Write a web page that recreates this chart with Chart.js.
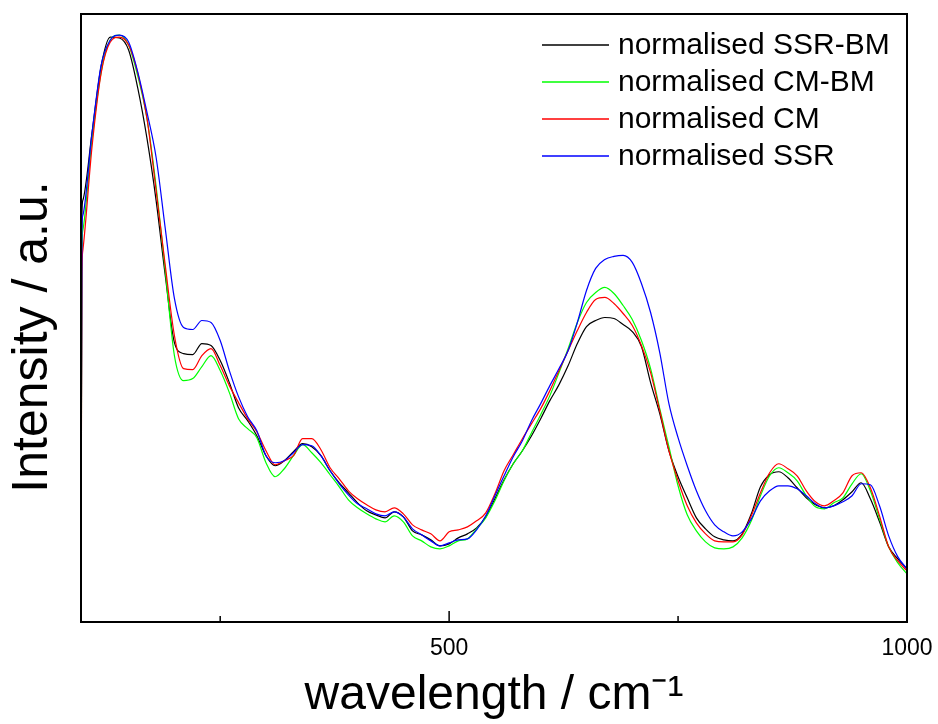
<!DOCTYPE html>
<html>
<head>
<meta charset="utf-8">
<script src="https://cdn.jsdelivr.net/npm/chart.js@4.4.1/dist/chart.umd.min.js"></script>
<style>
  html, body { margin: 0; padding: 0; background: #fff; }
  #wrap { width: 938px; height: 724px; position: relative; }
</style>
</head>
<body>
<div id="wrap"><canvas id="spectraChart"></canvas></div>
<script>
// wavelength axis (cm-1)
const wavelengths = [98, 99, 100, 110, 120, 130, 140, 150, 160, 170, 180, 190, 200, 210, 220, 230, 240, 250, 260, 270, 280, 290, 300, 310, 320, 330, 340, 350, 360, 370, 380, 390, 400, 410, 420, 430, 440, 450, 460, 470, 480, 490, 500, 510, 520, 530, 540, 550, 560, 570, 580, 590, 600, 610, 620, 630, 640, 650, 660, 670, 680, 690, 700, 710, 720, 730, 740, 750, 760, 770, 780, 790, 800, 810, 820, 830, 840, 850, 860, 870, 880, 890, 900, 910, 920, 930, 940, 950, 960, 970, 980, 990, 1000];

const ssrBm = [21, 406, 421, 488, 555, 584, 583, 571, 533, 483, 421, 346, 279, 268, 267, 278, 276, 261, 239, 214, 201, 186, 166, 156, 161, 170, 178, 175, 166, 151, 139, 129, 119, 111, 107, 104, 110, 105, 91, 87, 82, 76, 78, 84, 88, 94, 105, 123, 142, 158, 171, 186, 203, 221, 237, 256, 278, 295, 301, 304, 303, 297, 290, 275, 239, 208, 171, 145, 124, 104, 93, 85, 82, 81, 88, 108, 135, 147, 150, 144, 134, 124, 117, 114, 116, 122, 130, 139, 123, 100, 75, 63, 53];

const cmBm = [21, 371, 391, 481, 549, 581, 586, 576, 545, 503, 435, 351, 266, 241, 243, 255, 266, 251, 229, 203, 193, 184, 159, 145, 153, 166, 177, 169, 159, 147, 135, 122, 114, 108, 103, 100, 106, 100, 86, 81, 75, 73, 76, 81, 83, 93, 104, 121, 141, 158, 171, 189, 207, 226, 249, 273, 299, 319, 329, 334, 328, 316, 302, 281, 253, 213, 175, 136, 107, 91, 80, 74, 73, 75, 84, 101, 126, 146, 154, 149, 141, 126, 115, 113, 119, 124, 138, 148, 131, 103, 75, 59, 48];

const cm = [21, 346, 371, 474, 548, 579, 584, 576, 548, 503, 431, 356, 286, 253, 252, 266, 273, 256, 236, 219, 203, 190, 171, 157, 161, 166, 183, 183, 172, 154, 143, 131, 123, 117, 112, 110, 114, 108, 97, 92, 88, 81, 90, 92, 95, 101, 109, 128, 151, 167, 183, 198, 213, 231, 251, 271, 291, 309, 322, 324, 318, 308, 296, 276, 249, 211, 171, 141, 116, 99, 88, 81, 80, 80, 87, 106, 129, 149, 158, 153, 146, 131, 120, 116, 121, 129, 146, 149, 134, 106, 75, 61, 51];

const ssr = [21, 391, 406, 488, 556, 581, 586, 579, 549, 509, 464, 393, 323, 294, 292, 301, 299, 281, 251, 225, 205, 191, 166, 159, 161, 169, 177, 176, 166, 151, 138, 127, 118, 113, 108, 106, 110, 105, 93, 87, 81, 76, 79, 82, 83, 92, 106, 126, 146, 165, 181, 201, 218, 236, 253, 271, 299, 331, 353, 362, 365, 366, 359, 338, 309, 269, 218, 184, 156, 131, 111, 97, 90, 86, 90, 103, 121, 131, 136, 136, 133, 126, 118, 114, 116, 120, 126, 138, 137, 116, 86, 65, 53];

const seriesNames = ['normalised SSR-BM', 'normalised CM-BM', 'normalised CM', 'normalised SSR'];
const seriesColors = ['#000000', '#00ff00', '#ff0000', '#0000ff'];
const tickValues = [250, 500, 750, 1000];
const labelledTicks = [500, 1000];
const yTitle = 'Intensity / a.u.';

const FONT = "'Liberation Sans', Arial, sans-serif";

function toPoints(ys) {
    return wavelengths.map((x, i) => ({ x: x, y: ys[i] }));
}

// frame, inward tick marks, y title and the legend in the top right corner
const framePlugin = {
    id: 'frame',
    afterDatasetsDraw(chart) {
        const { ctx, chartArea: a, scales } = chart;
        ctx.save();
        ctx.strokeStyle = '#000';
        ctx.lineWidth = 2;
        ctx.strokeRect(a.left, a.top, a.right - a.left, a.bottom - a.top);

        ctx.lineWidth = 1.5;
        tickValues.forEach(v => {
            const px = scales.x.getPixelForValue(v);
            const len = labelledTicks.includes(v) ? 11 : 6;
            ctx.beginPath();
            ctx.moveTo(px, a.bottom);
            ctx.lineTo(px, a.bottom - len);
            ctx.stroke();
        });

        // y axis title, sits a bit below the middle like the original
        ctx.save();
        ctx.translate(a.left - 34, a.top + 323);
        ctx.rotate(-Math.PI / 2);
        ctx.font = '50px ' + FONT;
        ctx.fillStyle = '#000';
        ctx.textAlign = 'center';
        ctx.textBaseline = 'alphabetic';
        ctx.fillText(yTitle, 0, 0);
        ctx.restore();

        ctx.font = '30px ' + FONT;
        ctx.textBaseline = 'middle';
        ctx.textAlign = 'left';
        chart.data.datasets.forEach((ds, i) => {
            const y = a.top + 31 + i * 37;
            ctx.strokeStyle = ds.borderColor;
            ctx.lineWidth = 1.3;
            ctx.beginPath();
            ctx.moveTo(a.right - 365, y);
            ctx.lineTo(a.right - 298, y);
            ctx.stroke();
            ctx.fillStyle = '#000';
            ctx.fillText(ds.label, a.right - 289, y + 1);
        });
        ctx.restore();
    }
};

const seriesData = [ssrBm, cmBm, cm, ssr];

new Chart(document.getElementById('spectraChart'), {
    type: 'line',
    data: {
        datasets: seriesData.map((ys, i) => ({
            label: seriesNames[i],
            data: toPoints(ys),
            borderColor: seriesColors[i],
            backgroundColor: seriesColors[i],
            borderWidth: 1.2,
            pointRadius: 0,
            fill: false,
            cubicInterpolationMode: 'monotone',
            order: 4 - i
        }))
    },
    options: {
        responsive: true,
        maintainAspectRatio: false,
        animation: false,
        layout: {
            padding: { top: 14, right: 0, bottom: 0, left: 81 }
        },
        plugins: {
            legend: { display: false },
            tooltip: { enabled: false }
        },
        scales: {
            x: {
                type: 'linear',
                min: 98,
                max: 1000,
                afterBuildTicks: (scale) => {
                    scale.ticks = tickValues.map(v => ({ value: v }));
                },
                // tick padding would otherwise widen the right margin too
                afterFit: (scale) => {
                    scale.paddingLeft = 0;
                    scale.paddingRight = 31;
                },
                ticks: {
                    color: '#000',
                    padding: 15,
                    maxRotation: 0,
                    autoSkip: false,
                    font: { family: FONT, size: 23, lineHeight: 1 },
                    callback: (v) => labelledTicks.includes(v) ? String(v) : ''
                },
                grid: { display: false, drawTicks: false },
                border: { display: false },
                title: {
                    display: true,
                    text: 'wavelength / cm\u207B\u00B9',
                    color: '#000',
                    font: { family: FONT, size: 48, lineHeight: 1 },
                    padding: { top: -3, bottom: 4 }
                }
            },
            y: {
                display: false,
                min: 0,
                max: 607
            }
        }
    },
    plugins: [framePlugin]
});
</script>
</body>
</html>
